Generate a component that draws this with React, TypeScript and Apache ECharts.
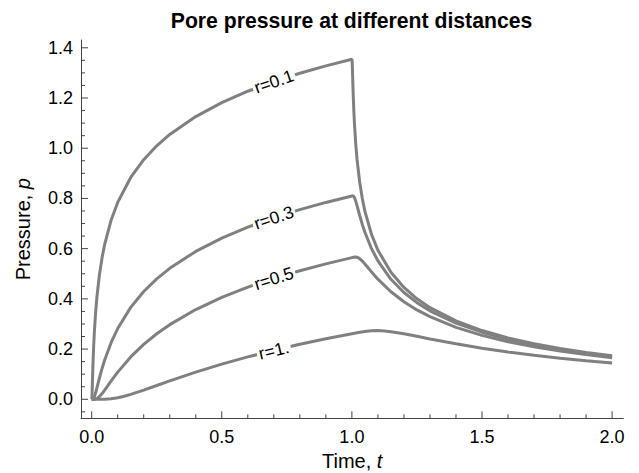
import React, { useEffect, useRef } from 'react';
import * as echarts from 'echarts';

// ---- data ----
const T_R01 = [0, 0.001, 0.002, 0.003, 0.005, 0.0075, 0.01, 0.015, 0.02, 0.03, 0.04, 0.05, 0.075, 0.1, 0.15, 0.2, 0.25, 0.3, 0.4, 0.5, 0.6, 0.7, 0.8, 0.9, 1.0, 1.001, 1.002, 1.003, 1.005, 1.0075, 1.01, 1.015, 1.02, 1.03, 1.04, 1.05, 1.075, 1.1, 1.15, 1.2, 1.25, 1.3, 1.4, 1.5, 1.6, 1.7, 1.8, 1.9, 2.0];
const P_R01 = [0, 0.0062, 0.0366, 0.0732, 0.14, 0.2073, 0.2611, 0.3436, 0.4059, 0.4973, 0.5642, 0.617, 0.7143, 0.7841, 0.8835, 0.9543, 1.0095, 1.0547, 1.1261, 1.1815, 1.2269, 1.2653, 1.2986, 1.3279, 1.3542, 1.3482, 1.3181, 1.2817, 1.2155, 1.1488, 1.0956, 1.0143, 0.9533, 0.8643, 0.7997, 0.7494, 0.658, 0.5938, 0.5056, 0.4453, 0.4004, 0.365, 0.3121, 0.2738, 0.2445, 0.2213, 0.2023, 0.1864, 0.173];

const T_R03 = [0, 0.005, 0.01, 0.015, 0.02, 0.03, 0.04, 0.05, 0.075, 0.1, 0.15, 0.2, 0.25, 0.3, 0.4, 0.5, 0.6, 0.7, 0.8, 0.9, 1.0, 1.005, 1.01, 1.015, 1.02, 1.03, 1.04, 1.05, 1.075, 1.1, 1.15, 1.2, 1.25, 1.3, 1.4, 1.5, 1.6, 1.7, 1.8, 1.9, 2.0];
const P_R03 = [0, 0.0005, 0.0087, 0.025, 0.0447, 0.0851, 0.1229, 0.1563, 0.2264, 0.2819, 0.3661, 0.4293, 0.4797, 0.5217, 0.5891, 0.6421, 0.6859, 0.7231, 0.7555, 0.7841, 0.8099, 0.8106, 0.8036, 0.7885, 0.77, 0.732, 0.6966, 0.6655, 0.6011, 0.5513, 0.478, 0.4253, 0.3849, 0.3525, 0.3033, 0.2673, 0.2394, 0.2171, 0.1989, 0.1836, 0.1705];

const T_R05 = [0, 0.01, 0.02, 0.03, 0.04, 0.05, 0.075, 0.1, 0.15, 0.2, 0.25, 0.3, 0.4, 0.5, 0.6, 0.7, 0.8, 0.9, 1.0, 1.01, 1.02, 1.03, 1.04, 1.05, 1.075, 1.1, 1.15, 1.2, 1.25, 1.3, 1.4, 1.5, 1.6, 1.7, 1.8, 1.9, 2.0];
const P_R05 = [0, 0.0001, 0.0028, 0.011, 0.0229, 0.0366, 0.0732, 0.1082, 0.1688, 0.2189, 0.2611, 0.2973, 0.3574, 0.4059, 0.4465, 0.4815, 0.5122, 0.5394, 0.5642, 0.5665, 0.5661, 0.5602, 0.5506, 0.5391, 0.508, 0.4785, 0.4284, 0.3884, 0.3559, 0.329, 0.2866, 0.2547, 0.2295, 0.2091, 0.1922, 0.1781, 0.1657];

const T_R1 = [0, 0.05, 0.075, 0.1, 0.125, 0.15, 0.2, 0.25, 0.3, 0.4, 0.5, 0.6, 0.7, 0.8, 0.9, 1.0, 1.025, 1.05, 1.075, 1.1, 1.125, 1.15, 1.2, 1.25, 1.3, 1.4, 1.5, 1.6, 1.7, 1.8, 1.9, 2.0];
const P_R1 = [0, 0.0003, 0.0022, 0.0062, 0.0122, 0.0196, 0.0366, 0.0548, 0.0732, 0.1082, 0.14, 0.1688, 0.195, 0.2189, 0.2408, 0.2611, 0.2659, 0.2703, 0.2731, 0.2737, 0.2721, 0.2691, 0.2607, 0.2509, 0.2405, 0.2209, 0.2037, 0.1886, 0.1754, 0.1639, 0.1538, 0.1448];

const CURVE_LABELS = ['r=0.1', 'r=0.3', 'r=0.5', 'r=1.'];
const LABEL_T = 0.7;

const X_MAJOR = [0, 0.5, 1.0, 1.5, 2.0];
const X_MINOR = [0.1, 0.2, 0.3, 0.4, 0.6, 0.7, 0.8, 0.9, 1.1, 1.2, 1.3, 1.4, 1.6, 1.7, 1.8, 1.9];
const Y_MAJOR = [0, 0.2, 0.4, 0.6, 0.8, 1.0, 1.2, 1.4];
const Y_MINOR = [-0.05, 0.05, 0.1, 0.15, 0.25, 0.3, 0.35, 0.45, 0.5, 0.55, 0.65, 0.7, 0.75, 0.85, 0.9, 0.95, 1.05, 1.1, 1.15, 1.25, 1.3, 1.35];

const TITLE = 'Pore pressure at different distances';
const X_NAME = 'Time, {i|t}';
const Y_NAME = 'Pressure, {i|p}';

// ---- styling ----
const FONT = '"Liberation Sans", Arial, Helvetica, sans-serif';
const LINE_COLOR = '#808080';
const AXIS_COLOR = '#444444';
const X_MIN = -0.041;
const X_MAX = 2.043;
const Y_MIN = -0.0757;
const Y_MAX = 1.431;
const LABEL_ROT = [19, 18.5, 17.5, 13.6];
const MAJOR_LEN = 7;
const MINOR_LEN = 4;

const CURVES = [
  [T_R01, P_R01],
  [T_R03, P_R03],
  [T_R05, P_R05],
  [T_R1, P_R1],
];

function tickSeries(values: number[], isX: boolean, len: number) {
  return {
    type: 'custom',
    xAxisIndex: 0,
    yAxisIndex: 0,
    silent: true,
    clip: false,
    z: 3,
    data: values.map((v) => (isX ? [v, Y_MIN] : [X_MIN, v])),
    renderItem: (params: any, api: any) => {
      const p = api.coord([api.value(0), api.value(1)]);
      const shape = isX
        ? { x1: p[0], y1: p[1], x2: p[0], y2: p[1] - len }
        : { x1: p[0], y1: p[1], x2: p[0] + len, y2: p[1] };
      return { type: 'line', shape, style: { stroke: AXIS_COLOR, lineWidth: 1 } };
    },
  };
}

export default function App() {
  const ref = useRef<HTMLDivElement>(null);
  useEffect(() => {
    document.body.style.margin = '0';
    const chart = echarts.init(ref.current!, null, { renderer: 'svg' });
    const nameStyle = {
      fontSize: 20,
      color: '#000',
      fontFamily: FONT,
      rich: { i: { fontStyle: 'italic', fontSize: 20, color: '#000', fontFamily: FONT } },
    };
    const series: any[] = CURVES.map(([ts, ps], k) => {
      const li = ts.indexOf(LABEL_T);
      return {
        type: 'line',
        data: ts.map((t, i) => [t, ps[i]]),
        symbol: 'none',
        smooth: false,
        z: 2,
        lineStyle: { color: LINE_COLOR, width: 3 },
        markPoint: {
          silent: true,
          symbol: 'circle',
          symbolSize: 0.1,
          itemStyle: { color: 'rgba(0,0,0,0)' },
          label: {
            show: true,
            position: 'inside',
            formatter: CURVE_LABELS[k],
            rotate: LABEL_ROT[k],
            backgroundColor: '#fff',
            padding: [0, 2],
            color: '#000',
            fontSize: 17.5,
            fontFamily: FONT,
          },
          data: [{ coord: [ts[li], ps[li]] }],
        },
      };
    });
    series.push(tickSeries(X_MAJOR, true, MAJOR_LEN));
    series.push(tickSeries(X_MINOR, true, MINOR_LEN));
    series.push(tickSeries(Y_MAJOR, false, MAJOR_LEN));
    series.push(tickSeries(Y_MINOR, false, MINOR_LEN));

    const option: any = {
      animation: false,
      backgroundColor: '#fff',
      title: {
        text: TITLE,
        left: 346.5,
        top: 5,
        textAlign: 'center',
        textStyle: { fontSize: 21.2, fontWeight: 'bold', color: '#000', fontFamily: FONT },
      },
      grid: { left: 81, right: 15.7, top: 40, bottom: 54.7, outerBoundsMode: 'none' },
      xAxis: {
        type: 'value',
        min: X_MIN,
        max: X_MAX,
        axisLine: { show: true, onZero: false, lineStyle: { color: AXIS_COLOR, width: 1 } },
        axisTick: { show: false },
        axisLabel: {
          customValues: X_MAJOR,
          formatter: (v: number) => v.toFixed(1),
          margin: 10,
          fontSize: 18,
          color: '#000',
          fontFamily: FONT,
        },
        splitLine: { show: false },
        name: X_NAME,
        nameLocation: 'middle',
        nameGap: 32,
        nameTextStyle: nameStyle,
      },
      yAxis: {
        type: 'value',
        min: Y_MIN,
        max: Y_MAX,
        axisLine: { show: true, onZero: false, lineStyle: { color: AXIS_COLOR, width: 1 } },
        axisTick: { show: false },
        axisLabel: {
          customValues: Y_MAJOR,
          formatter: (v: number) => v.toFixed(1),
          margin: 8,
          fontSize: 18,
          color: '#000',
          fontFamily: FONT,
        },
        splitLine: { show: false },
        name: Y_NAME,
        nameLocation: 'middle',
        nameGap: 48,
        nameRotate: 90,
        nameTextStyle: nameStyle,
      },
      series,
    };
    chart.setOption(option);
    return () => chart.dispose();
  }, []);
  return <div ref={ref} style={{ width: 639, height: 473 }} />;
}
